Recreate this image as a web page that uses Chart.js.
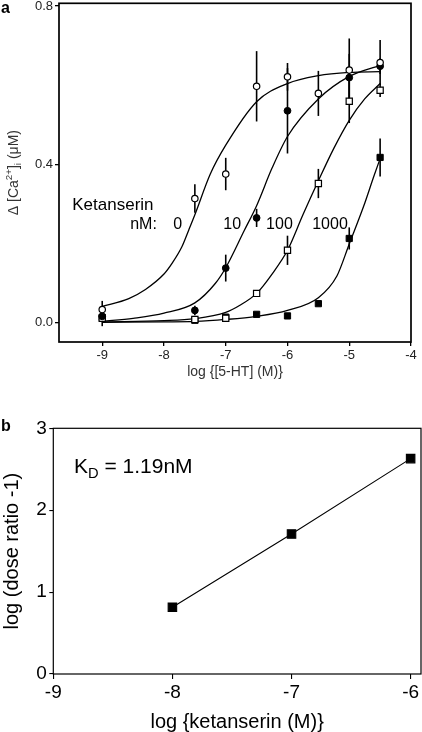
<!DOCTYPE html>
<html>
<head>
<meta charset="utf-8">
<script src="https://cdn.jsdelivr.net/npm/chart.js@4.4.0/dist/chart.umd.min.js"></script>
<style>
  body { margin: 0; background: #fff; width: 422px; height: 732px; position: relative; overflow: hidden; font-family: "Liberation Sans", Arial, sans-serif; }
  .panel-label { position: absolute; font-weight: bold; font-size: 16px; color: #000; line-height: 16px; }
  #doseChart { position: absolute; left: 0; top: 0; }
  #schildChart { position: absolute; left: 0; top: 400px; }
</style>
</head>
<body>
<canvas id="doseChart" width="422" height="390"></canvas>
<canvas id="schildChart" width="422" height="332"></canvas>
<div class="panel-label" style="left:1px; top:0px;">a</div>
<div class="panel-label" style="left:1px; top:418px;">b</div>

<script>
// Panel a: 5-HT response curves at four ketanserin concentrations
const log5HT = [-9, -7.5, -7, -6.5, -6, -5.5, -5, -4.5];
const resp0 = [0.032, 0.313, 0.375, 0.597, 0.621, 0.579, 0.638, 0.657];
const err0 = [0.022, 0.036, 0.041, 0.089, 0.035, 0.057, 0.08, 0.057];
const resp10 = [0.015, 0.030, 0.137, 0.264, 0.535, null, 0.619, 0.648];
const err10 = [0, 0.012, 0.034, 0.023, 0.108, 0, 0.06, 0.02];
const resp100 = [0.010, 0.007, 0.010, 0.073, 0.182, 0.351, 0.559, 0.587];
const err100 = [0.02, 0, 0, 0, 0.037, 0.037, 0.055, 0.017];
const resp1000 = [0.012, 0.005, 0.013, 0.020, 0.016, 0.047, 0.212, 0.417];
const err1000 = [0, 0, 0, 0, 0, 0, 0.028, 0.048];

// fitted curves
const fitX0 = [-9, -8.57, -8.3, -8, -7.87, -7.71, -7.6, -7.5, -7.25, -7, -6.5, -6, -5.5, -5, -4.5];
const fitY0 = [0.040, 0.060, 0.083, 0.122, 0.149, 0.191, 0.233, 0.272, 0.375, 0.448, 0.558, 0.604, 0.624, 0.632, 0.634];
const fitX10 = [-9, -8.5, -8, -7.5, -7.17, -7, -6.7, -6.5, -6.25, -6, -5.5, -5, -4.5];
const fitY10 = [0.002, 0.010, 0.023, 0.049, 0.098, 0.138, 0.232, 0.295, 0.39, 0.47, 0.565, 0.622, 0.650];
const fitX100 = [-9, -8, -7.5, -7, -6.77, -6.5, -6.25, -6, -5.75, -5.5, -5.25, -5, -4.75, -4.5];
const fitY100 = [0.001, 0.004, 0.009, 0.025, 0.043, 0.073, 0.122, 0.182, 0.272, 0.358, 0.44, 0.511, 0.565, 0.604];
const fitX1000 = [-9, -8, -7.5, -7, -6.5, -6, -5.5, -5.2, -5, -4.77, -4.6, -4.5];
const fitY1000 = [0, 0.001, 0.002, 0.007, 0.015, 0.03, 0.062, 0.117, 0.198, 0.292, 0.37, 0.414];

const xTicksA = [-9, -8, -7, -6, -5, -4];
const yTicksA = [0, 0.4, 0.8];

// Panel b: Schild plot
const logKet = [-8, -7, -6];
const logDR1 = [0.815, 1.71, 2.63];
const xTicksB = [-9, -8, -7, -6];
const yTicksB = [0, 1, 2, 3];

const FONT = '"Liberation Sans", Arial, sans-serif';

function pts(xs, ys) {
    return xs.map((x, i) => ({ x: x, y: ys[i] }));
}

// text with sub/superscript parts
function richWidth(ctx, parts, size) {
    let w = 0;
    parts.forEach(p => {
        ctx.font = ((p.sub || p.sup) ? size * 0.7 : size) + 'px ' + FONT;
        w += ctx.measureText(p.t).width;
    });
    return w;
}
function drawRich(ctx, parts, x, y, size) {
    let cx = x;
    parts.forEach(p => {
        const s = (p.sub || p.sup) ? size * 0.7 : size;
        ctx.font = s + 'px ' + FONT;
        let dy = 0;
        if (p.sub) dy = size * 0.3;
        if (p.sup) dy = -size * 0.35;
        ctx.fillText(p.t, cx, y + dy);
        cx += ctx.measureText(p.t).width;
    });
}

const errorBars = {
    id: 'errorBars',
    beforeDatasetsDraw(chart) {
        const { ctx, scales: { x, y } } = chart;
        ctx.save();
        ctx.strokeStyle = '#000';
        ctx.lineWidth = 1.6;
        chart.data.datasets.forEach(ds => {
            if (!ds.errors) return;
            ds.data.forEach((p, j) => {
                const e = ds.errors[j];
                if (!e || p.y == null) return;
                const px = x.getPixelForValue(p.x);
                ctx.beginPath();
                ctx.moveTo(px, y.getPixelForValue(p.y - e));
                ctx.lineTo(px, y.getPixelForValue(p.y + e));
                ctx.stroke();
            });
        });
        ctx.restore();
    }
};

const frame = {
    id: 'frame',
    afterDraw(chart, args, opts) {
        const { ctx, chartArea: a } = chart;
        ctx.save();
        ctx.strokeStyle = '#000';
        ctx.lineWidth = opts.width || 1.5;
        ctx.strokeRect(a.left, a.top, a.right - a.left, a.bottom - a.top);
        ctx.restore();
    }
};

const textLabels = {
    id: 'textLabels',
    afterDraw(chart, args, opts) {
        const { ctx, scales: { x, y } } = chart;
        ctx.save();
        ctx.fillStyle = opts.color || '#000';
        ctx.textBaseline = 'middle';
        ctx.textAlign = 'left';
        (opts.items || []).forEach(item => {
            drawRich(ctx, item.parts, x.getPixelForValue(item.x), y.getPixelForValue(item.y), item.size || opts.size);
        });
        if (opts.yTitle) {
            const t = opts.yTitle;
            const cy = (chart.chartArea.top + chart.chartArea.bottom) / 2;
            ctx.translate(t.x, cy);
            ctx.rotate(-Math.PI / 2);
            ctx.fillStyle = t.color;
            const w = richWidth(ctx, t.parts, t.size);
            drawRich(ctx, t.parts, -w / 2, 0, t.size);
        }
        ctx.restore();
    }
};

function fixedAxis(size) {
    return function (s) {
        if (s.isHorizontal()) s.height = size; else s.width = size;
        s.paddingLeft = s.paddingRight = s.paddingTop = s.paddingBottom = 0;
    };
}

// 1. Concentration-response curves
const curveStyle = { showLine: true, pointRadius: 0, borderColor: '#000', borderWidth: 1.3, cubicInterpolationMode: 'monotone', fill: false };

new Chart(document.getElementById('doseChart'), {
    type: 'scatter',
    data: {
        datasets: [
            { label: '0 nM', data: pts(log5HT, resp0), errors: err0, pointStyle: 'circle', pointRadius: 3.2,
              pointBackgroundColor: '#fff', pointBorderColor: '#000', pointBorderWidth: 1.2 },
            { label: '10 nM', data: pts(log5HT, resp10), errors: err10, pointStyle: 'circle', pointRadius: 3.4,
              pointBackgroundColor: '#000', pointBorderColor: '#000', pointBorderWidth: 1 },
            { label: '100 nM', data: pts(log5HT, resp100), errors: err100, pointStyle: 'rect', pointRadius: 4.4,
              pointBackgroundColor: '#fff', pointBorderColor: '#000', pointBorderWidth: 1.2 },
            { label: '1000 nM', data: pts(log5HT, resp1000), errors: err1000, pointStyle: 'rect', pointRadius: 4.4,
              pointBackgroundColor: '#000', pointBorderColor: '#000', pointBorderWidth: 1 },
            Object.assign({ data: pts(fitX0, fitY0) }, curveStyle),
            Object.assign({ data: pts(fitX10, fitY10) }, curveStyle),
            Object.assign({ data: pts(fitX100, fitY100) }, curveStyle),
            Object.assign({ data: pts(fitX1000, fitY1000) }, curveStyle)
        ]
    },
    options: {
        responsive: false,
        animation: false,
        devicePixelRatio: 1,
        layout: { autoPadding: false, padding: { left: 0, top: 3.3, right: 11, bottom: 0 } },
        plugins: {
            legend: { display: false },
            tooltip: { enabled: false },
            frame: { width: 1.7 },
            textLabels: {
                size: 16,
                color: '#000',
                items: [
                    { x: -9.485, y: 0.296, size: 17, parts: [{ t: 'Ketanserin' }] },
                    { x: -8.547, y: 0.246, parts: [{ t: 'nM:' }] },
                    { x: -7.851, y: 0.246, parts: [{ t: '0' }] },
                    { x: -7.04, y: 0.246, parts: [{ t: '10' }] },
                    { x: -6.346, y: 0.246, parts: [{ t: '100' }] },
                    { x: -5.60, y: 0.246, parts: [{ t: '1000' }] }
                ],
                yTitle: {
                    x: 14, size: 14, color: '#333',
                    parts: [{ t: 'Δ [Ca' }, { t: '2+', sup: true }, { t: ']' }, { t: 'i', sub: true }, { t: ' (μM)' }]
                }
            }
        },
        scales: {
            x: {
                type: 'linear', min: -9.7, max: -4,
                afterBuildTicks: s => { s.ticks = xTicksA.map(v => ({ value: v })); },
                afterFit: fixedAxis(48),
                border: { display: false },
                grid: { drawOnChartArea: false, drawTicks: true, tickLength: 4, color: '#000', lineWidth: 1.3 },
                ticks: { color: '#222', font: { family: FONT, size: 13 }, padding: 2, maxRotation: 0 },
                title: { display: true, text: 'log {[5-HT] (M)}', color: '#333',
                         font: { family: FONT, size: 14, lineHeight: 1 }, padding: { top: 0, bottom: 11 } }
            },
            y: {
                type: 'linear', min: -0.05, max: 0.807,
                afterBuildTicks: s => { s.ticks = yTicksA.map(v => ({ value: v })); },
                afterFit: fixedAxis(59),
                border: { display: false },
                grid: { drawOnChartArea: false, drawTicks: true, tickLength: 4, color: '#000', lineWidth: 1.3 },
                ticks: { color: '#222', font: { family: FONT, size: 13 }, padding: 2, callback: v => v.toFixed(1) }
            }
        }
    },
    plugins: [errorBars, frame, textLabels]
});

// 2. Schild plot
new Chart(document.getElementById('schildChart'), {
    type: 'scatter',
    data: {
        datasets: [{
            data: pts(logKet, logDR1),
            showLine: true,
            borderColor: '#000',
            borderWidth: 1.1,
            pointStyle: 'rect',
            pointRadius: 6,
            pointBackgroundColor: '#000',
            pointBorderColor: '#000'
        }]
    },
    options: {
        responsive: false,
        animation: false,
        devicePixelRatio: 1,
        layout: { autoPadding: false, padding: { left: 0, top: 28.3, right: 1, bottom: 0 } },
        plugins: {
            legend: { display: false },
            tooltip: { enabled: false },
            frame: { width: 1.2 },
            textLabels: {
                size: 21,
                color: '#000',
                items: [
                    { x: -8.826, y: 2.52, parts: [{ t: 'K' }, { t: 'D', sub: true }, { t: ' = 1.19nM' }] }
                ]
            }
        },
        scales: {
            x: {
                type: 'linear', min: -9, max: -5.913,
                afterBuildTicks: s => { s.ticks = xTicksB.map(v => ({ value: v })); },
                afterFit: fixedAxis(58),
                border: { display: false },
                grid: { drawOnChartArea: false, drawTicks: true, tickLength: 5, color: '#000', lineWidth: 1.1 },
                ticks: { color: '#000', font: { family: FONT, size: 19 }, padding: 2, maxRotation: 0 },
                title: { display: true, text: 'log {ketanserin (M)}', color: '#000',
                         font: { family: FONT, size: 20, lineHeight: 1 }, padding: { top: 0, bottom: 0 } }
            },
            y: {
                type: 'linear', min: 0, max: 3,
                afterBuildTicks: s => { s.ticks = yTicksB.map(v => ({ value: v })); },
                afterFit: fixedAxis(53.3),
                border: { display: false },
                grid: { drawOnChartArea: false, drawTicks: true, tickLength: 4, color: '#000', lineWidth: 1.1 },
                ticks: { color: '#000', font: { family: FONT, size: 19 }, padding: 2.5 },
                title: { display: true, text: 'log (dose ratio -1)', color: '#000',
                         font: { family: FONT, size: 20, lineHeight: 1 }, padding: { top: 2, bottom: 0 } }
            }
        }
    },
    plugins: [frame, textLabels]
});
</script>
</body>
</html>
